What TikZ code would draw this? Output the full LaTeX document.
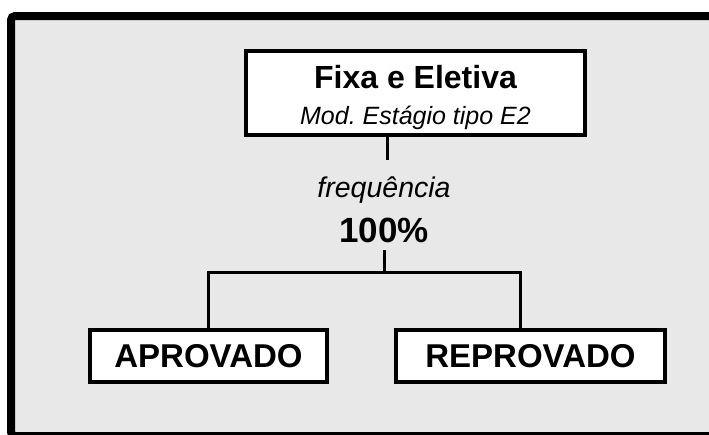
\documentclass[tikz,border=0pt]{standalone}
\usepackage{fontspec}
\setmainfont{Liberation Sans}
\definecolor{fundo}{HTML}{E8E8E8}

\begin{document}
\begin{tikzpicture}[x=1pt, y=-1pt,
    caixa/.style={draw, line width=4pt, fill=white, inner sep=0pt},
    liga/.style={line width=3pt}]
    \useasboundingbox (0,0) rectangle (709,434);
    \clip (0,0) rectangle (709,434);
    \draw[line width=8pt, fill=fundo, rounded corners=4pt] (11,16) rectangle (760,436);

    \node[caixa, minimum width=339pt, minimum height=84pt, align=center,
          font=\fontsize{25}{36}\selectfont](fixa) at (415.5,93)
        {\rule{0pt}{32pt}{\fontsize{32}{36}\selectfont\bfseries Fixa e Eletiva}\\\itshape Mod.\ Estágio tipo E2};

    \node[font=\fontsize{28.5}{34}\selectfont\itshape](freq) at (384,190) {frequência};
    \node[font=\fontsize{35}{42}\selectfont\bfseries](cem) at (384,230) {100\%};

    \node[caixa, minimum width=237pt, minimum height=52pt,
          font=\fontsize{33}{40}\selectfont\bfseries](aprov) at (208.5,356) {APROVADO};
    \node[caixa, minimum width=269pt, minimum height=52pt,
          font=\fontsize{33}{40}\selectfont\bfseries](reprov) at (530.5,356) {REPROVADO};

    \coordinate (haste) at (387,160);
    \coordinate (ramo) at (384,250);
    \coordinate (juncao) at (384,272);

    \draw[liga] (haste |- fixa.south) -- (haste);
    \draw[liga] (ramo) -- (juncao);
    \draw[liga] (aprov.north) |- (juncao) -| ([xshift=-10.5pt]reprov.north);
\end{tikzpicture}
\end{document}
